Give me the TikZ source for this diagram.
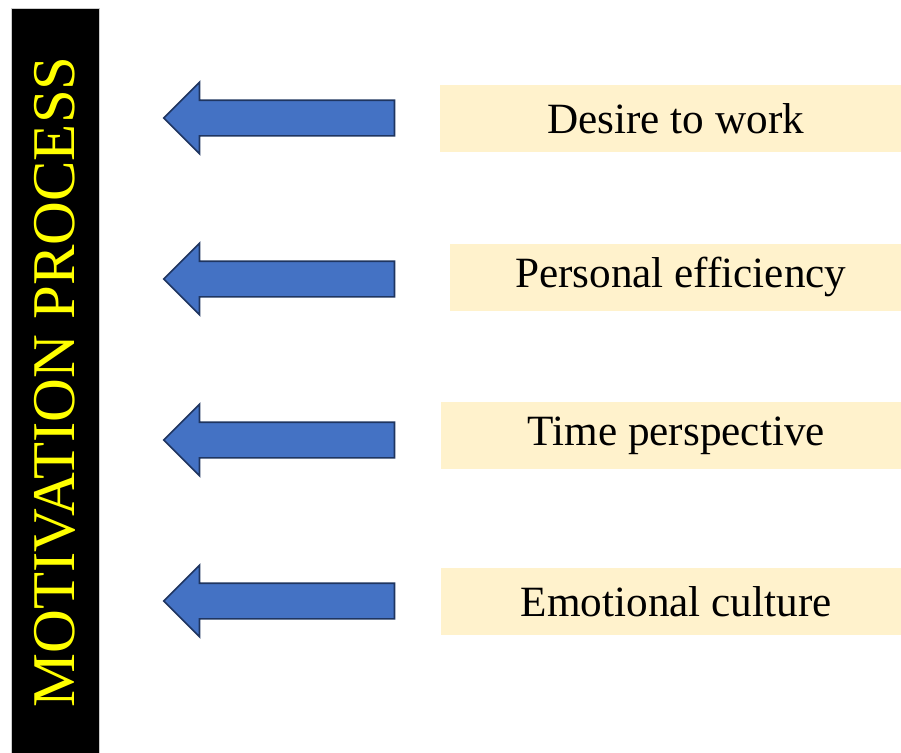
\documentclass[tikz,border=0pt]{standalone}
\usepackage{fontspec}
\setmainfont{Liberation Serif}
\usetikzlibrary{shapes.arrows}
\definecolor{arrowblue}{HTML}{4472C4}
\definecolor{arrowline}{HTML}{1F3560}
\definecolor{boxyellow}{HTML}{FFF2CC}
\definecolor{titleyellow}{HTML}{FFFF00}
\begin{document}
\begin{tikzpicture}[x=0.75pt,y=-0.75pt,
    factor/.style={fill=boxyellow,anchor=west,inner sep=0pt,minimum height=50.25pt,font=\fontsize{32.4}{38}\selectfont},
    pointer/.style={single arrow,shape border rotate=180,fill=arrowblue,draw=arrowline,line width=1.3pt,
      inner xsep=0pt,inner ysep=12.75pt,minimum height=173pt,single arrow head extend=13.5pt,single arrow tip angle=90}]
  \clip (0,0) rectangle (901,753);
  \node[rotate=90,fill=black,draw=black!20,minimum width=560pt,minimum height=66pt,
    text=titleyellow,font=\fontsize{45.5}{50}\selectfont] (title) at (55,382) {MOTIVATION PROCESS};

  \node[pointer] (a1) at (288,118) {};
  \node[pointer] (a2) at (288,279) {};
  \node[pointer] (a3) at (288,440) {};
  \node[pointer] (a4) at (288,601) {};

  \node[factor,minimum width=353.25pt] (f1) at (440,118.5) {Desire to work};
  \node[factor,minimum width=345.75pt] (f2) at (450,277) {Personal efficiency};
  \node[factor,minimum width=352.5pt] (f3) at (441,435.5) {Time perspective};
  \node[factor,minimum width=352.5pt] (f4) at (441,601.5) {Emotional culture};
\end{tikzpicture}
\end{document}
